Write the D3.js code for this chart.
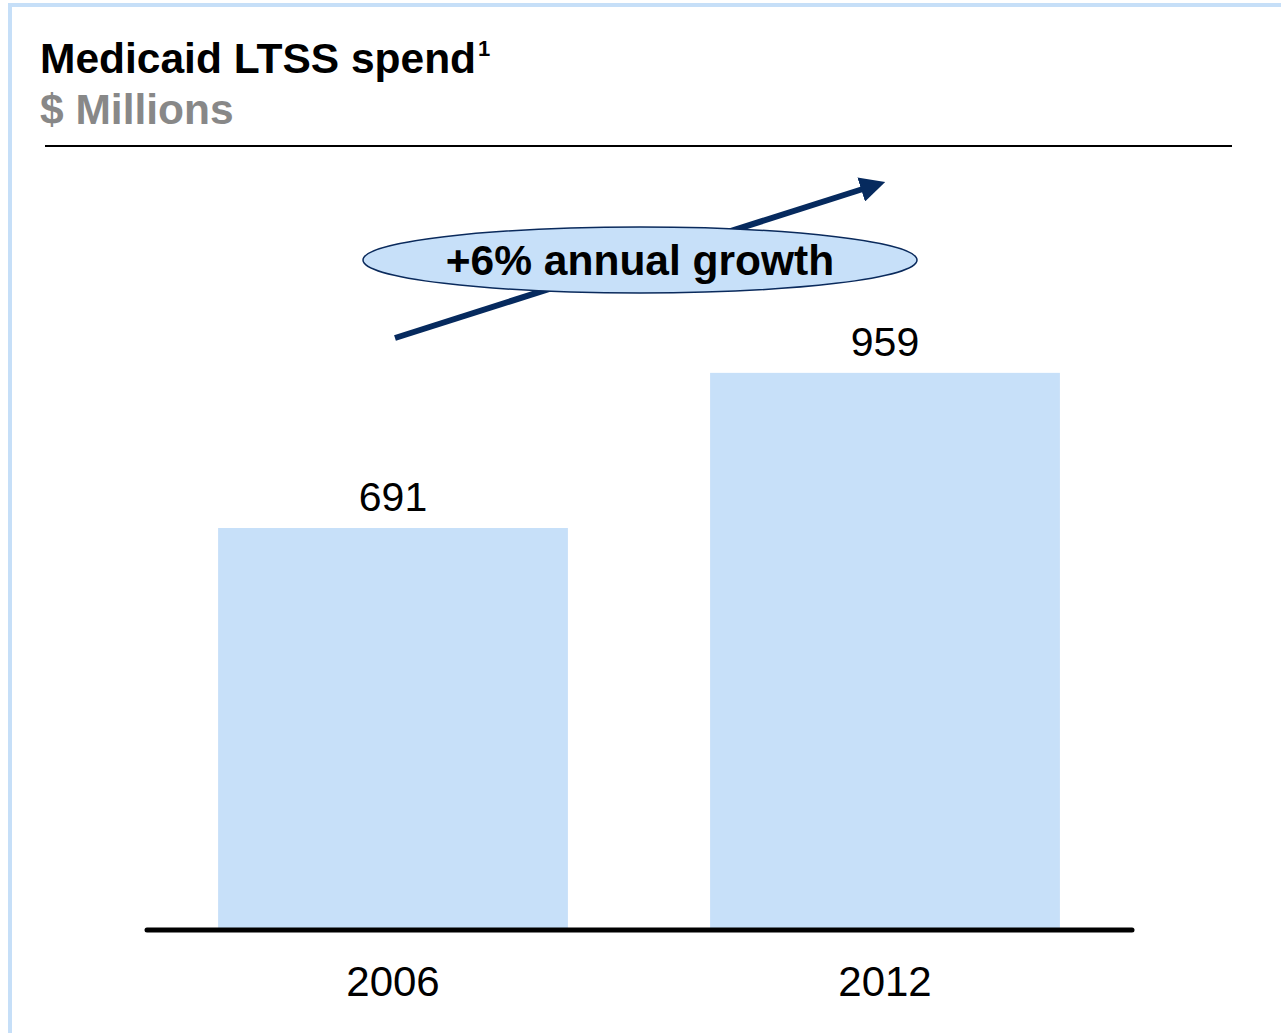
<!DOCTYPE html>
<html><head><meta charset="utf-8">
<script src="https://cdn.jsdelivr.net/npm/d3@7"></script>
<style>html,body{margin:0;padding:0;background:#fff;}svg{display:block;}</style>
</head><body>
<svg id="c" width="1281" height="1033"></svg>
<script>
const categories = ["2006", "2012"];
const values = [691, 959];
const titleText = "Medicaid LTSS spend";
const titleSup = "1";
const subtitleText = "$ Millions";
const growthLabel = "+6% annual growth";

const svg = d3.select("#c");
const font = "'Liberation Sans', Arial, Helvetica, sans-serif";

// frame
svg.append("rect").attr("x",10).attr("y",5).attr("width",1281).attr("height",1040)
  .attr("fill","#fff").attr("stroke","#c6dff8").attr("stroke-width",4);

// title
const t = svg.append("text").attr("x",40).attr("y",73).attr("font-family",font)
  .attr("font-weight","bold").attr("font-size",42.5).attr("fill","#000");
t.append("tspan").text(titleText);
t.append("tspan").text(titleSup).attr("font-size",22).attr("dy",-17).attr("dx",2);
svg.append("text").attr("x",40).attr("y",124).attr("font-family",font)
  .attr("font-weight","bold").attr("font-size",42.5).attr("fill","#888").text(subtitleText);
svg.append("line").attr("x1",45).attr("x2",1232).attr("y1",146).attr("y2",146)
  .attr("stroke","#000").attr("stroke-width",2);

// scales
const x = d3.scaleBand().domain(categories).range([147,1131]).paddingInner(0.289).paddingOuter(0.1445);
const y = d3.scaleLinear().domain([0,691]).range([928,528]);

svg.selectAll("rect.bar").data(values).join("rect").attr("class","bar")
  .attr("x",(d,i)=>x(categories[i])).attr("width",x.bandwidth())
  .attr("y",d=>y(d)).attr("height",d=>y(0)-y(d)).attr("fill","#c7e0f9");

svg.selectAll("text.val").data(values).join("text").attr("class","val")
  .attr("x",(d,i)=>x(categories[i])+x.bandwidth()/2).attr("y",d=>y(d)-17)
  .attr("text-anchor","middle").attr("font-family",font).attr("font-size",41).text(d=>d);

// baseline axis
const xAxis = d3.axisBottom(x).tickSize(0).tickPadding(36);
const ag = svg.append("g").attr("transform",`translate(0,${y(0)+2})`).call(xAxis);
ag.select(".domain").remove();
ag.selectAll("text").attr("font-family",font).attr("font-size",42).attr("fill","#000");
svg.append("line").attr("x1",147).attr("x2",1132).attr("y1",y(0)+2).attr("y2",y(0)+2)
  .attr("stroke","#000").attr("stroke-width",5).attr("stroke-linecap","round");

// growth arrow
const defs = svg.append("defs");
defs.append("marker").attr("id","ah").attr("viewBox","0 0 10 10").attr("refX",2).attr("refY",5)
  .attr("markerWidth",4.2).attr("markerHeight",4.2).attr("orient","auto").attr("markerUnits","strokeWidth")
  .append("path").attr("d","M0,0 L10,5 L0,10 Z").attr("fill","#062a5e");
svg.append("line").attr("x1",395).attr("y1",338).attr("x2",866).attr("y2",188)
  .attr("stroke","#062a5e").attr("stroke-width",6).attr("marker-end","url(#ah)");

svg.append("ellipse").attr("cx",640).attr("cy",260).attr("rx",277).attr("ry",33)
  .attr("fill","#c7e0f9").attr("stroke","#0a2a5c").attr("stroke-width",1.5);
svg.append("text").attr("x",640).attr("y",275).attr("text-anchor","middle").attr("font-family",font)
  .attr("font-weight","bold").attr("font-size",42.5).text(growthLabel);
</script>
</body></html>
